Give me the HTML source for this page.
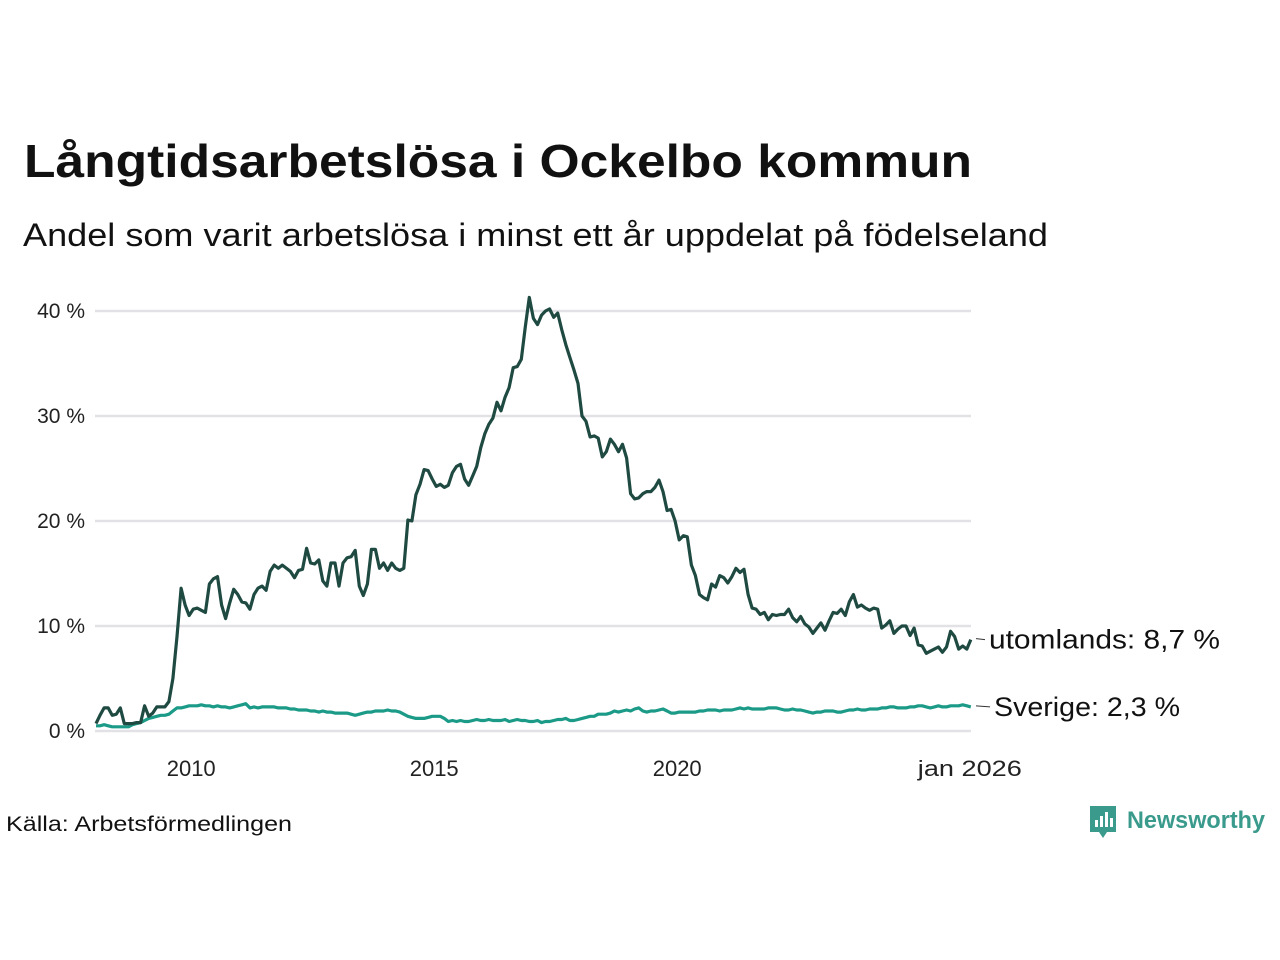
<!DOCTYPE html>
<html><head><meta charset="utf-8"><style>
body{margin:0;background:#fff;}
svg{display:block;font-family:"Liberation Sans","DejaVu Sans",sans-serif;}
</style></head><body>
<svg id="chart" width="1280" height="960" viewBox="0 0 1280 960">
<text x="24" y="177" font-size="46" font-weight="bold" fill="#111" textLength="948" lengthAdjust="spacingAndGlyphs">Långtidsarbetslösa i Ockelbo kommun</text>
<text x="23" y="246" font-size="32" fill="#111" textLength="1025" lengthAdjust="spacingAndGlyphs">Andel som varit arbetslösa i minst ett år uppdelat på födelseland</text>
<g id="grid"></g>
<g id="series"></g>
<text x="6" y="831" font-size="21" fill="#111" textLength="286" lengthAdjust="spacingAndGlyphs">Källa: Arbetsförmedlingen</text>
<g>
<path d="M1090 806 h26 v26 h-9 l-4 6 l-4 -6 h-9 z" fill="#3a9a8c"/>
<rect x="1095" y="820" width="3" height="7" fill="#fff"/><rect x="1100" y="816" width="3" height="11" fill="#fff"/><rect x="1105" y="812" width="3" height="15" fill="#fff"/><rect x="1110" y="818" width="3" height="9" fill="#fff"/>
<text x="1127" y="828" font-size="24" font-weight="bold" fill="#3a9a8c" textLength="138" lengthAdjust="spacingAndGlyphs">Newsworthy</text>
</g>
</svg>
<script>
const startYear = 2008;
const yTicks = [0, 10, 20, 30, 40];
const yTickLabels = ["0 %", "10 %", "20 %", "30 %", "40 %"];
const xTickYears = [2010, 2015, 2020];
const xTickLabels = ["2010", "2015", "2020"];
const lastLabel = "jan 2026";
const utomlands = [
0.7,1.5,2.2,2.2,1.5,1.6,2.2,0.7,0.7,0.7,0.8,0.8,
2.4,1.4,1.7,2.3,2.3,2.3,2.8,5.0,9.0,13.6,12.0,11.0,
11.6,11.7,11.5,11.3,14.0,14.5,14.7,12.0,10.7,12.2,13.5,13.0,
12.3,12.2,11.6,13.0,13.6,13.8,13.4,15.2,15.8,15.5,15.8,15.5,
15.2,14.6,15.3,15.4,17.4,16.0,15.9,16.3,14.3,13.8,16.0,16.0,
13.8,16.0,16.5,16.6,17.2,13.8,12.9,14.0,17.3,17.3,15.5,16.0,
15.3,16.0,15.5,15.3,15.5,20.1,20.0,22.5,23.5,24.9,24.8,24.0,
23.3,23.5,23.2,23.4,24.6,25.2,25.4,24.0,23.4,24.3,25.2,27.0,
28.3,29.2,29.8,31.3,30.5,31.8,32.7,34.6,34.7,35.4,38.5,41.3,
39.3,38.7,39.6,40.0,40.2,39.4,39.8,38.2,36.8,35.6,34.4,33.1,
30.0,29.5,28.0,28.1,27.9,26.1,26.6,27.8,27.3,26.6,27.3,26.0,
22.6,22.1,22.2,22.6,22.8,22.8,23.2,23.9,22.8,21.0,21.1,20.0,
18.2,18.6,18.5,15.8,14.8,13.0,12.7,12.5,14.0,13.7,14.8,14.6,
14.1,14.7,15.5,15.1,15.4,13.0,11.7,11.6,11.1,11.3,10.6,11.1,
11.0,11.1,11.1,11.6,10.8,10.4,10.9,10.2,9.9,9.3,9.8,10.3,
9.6,10.5,11.3,11.2,11.6,11.0,12.3,13.0,11.8,12.0,11.7,11.5,
11.7,11.6,9.8,10.1,10.5,9.3,9.7,10.0,10.0,9.1,9.8,8.2,
8.1,7.4,7.6,7.8,8.0,7.5,8.0,9.5,9.0,7.8,8.1,7.8,
8.7];
const sverige = [
0.5,0.5,0.6,0.5,0.4,0.4,0.4,0.4,0.4,0.6,0.7,0.8,
1.0,1.2,1.3,1.4,1.5,1.5,1.6,1.9,2.2,2.2,2.3,2.4,
2.4,2.4,2.5,2.4,2.4,2.3,2.4,2.3,2.3,2.2,2.3,2.4,
2.5,2.6,2.2,2.3,2.2,2.3,2.3,2.3,2.3,2.2,2.2,2.2,
2.1,2.1,2.0,2.0,2.0,1.9,1.9,1.8,1.9,1.8,1.8,1.7,
1.7,1.7,1.7,1.6,1.5,1.6,1.7,1.8,1.8,1.9,1.9,1.9,
2.0,1.9,1.9,1.8,1.6,1.4,1.3,1.2,1.2,1.2,1.3,1.4,
1.4,1.4,1.2,0.9,1.0,0.9,1.0,0.9,0.9,1.0,1.1,1.0,
1.0,1.1,1.0,1.0,1.0,1.1,0.9,1.0,1.1,1.0,1.0,0.9,
0.9,1.0,0.8,0.9,0.9,1.0,1.1,1.1,1.2,1.0,1.0,1.1,
1.2,1.3,1.4,1.4,1.6,1.6,1.6,1.7,1.9,1.8,1.9,2.0,
1.9,2.1,2.2,1.9,1.8,1.9,1.9,2.0,2.1,1.9,1.7,1.7,
1.8,1.8,1.8,1.8,1.8,1.9,1.9,2.0,2.0,2.0,1.9,2.0,
2.0,2.0,2.1,2.2,2.1,2.2,2.1,2.1,2.1,2.1,2.2,2.2,
2.2,2.1,2.0,2.0,2.1,2.0,2.0,1.9,1.8,1.7,1.8,1.8,
1.9,1.9,1.9,1.8,1.8,1.9,2.0,2.0,2.1,2.0,2.0,2.1,
2.1,2.1,2.2,2.2,2.3,2.3,2.2,2.2,2.2,2.3,2.3,2.4,
2.4,2.3,2.2,2.3,2.4,2.3,2.3,2.4,2.4,2.4,2.5,2.4,
2.3];
const seriesNames = ["utomlands", "Sverige"];

const NS = "http://www.w3.org/2000/svg";
const x0 = 96, pxPerYear = 48.6, y0 = 731, pxPerPct = 10.5;
function xScale(i){ return x0 + i * pxPerYear / 12; }
function xYear(yr){ return x0 + (yr - startYear) * pxPerYear; }
function yScale(v){ return y0 - v * pxPerPct; }
function mk(tag, attrs){ const e = document.createElementNS(NS, tag); for (const k in attrs) e.setAttribute(k, attrs[k]); return e; }

const grid = document.getElementById('grid');
yTicks.forEach((t, i) => {
  const l = mk('line', {x1: 95, x2: 971, y1: yScale(t), y2: yScale(t), stroke: '#e1e1e6', 'stroke-width': 2.5});
  
  
  grid.appendChild(l);
  const tx = mk('text', {x: 85, y: yScale(t) + 7, 'text-anchor': 'end', 'font-size': 21, fill: '#222'});
  
  
  tx.textContent = yTickLabels[i];
  grid.appendChild(tx);
});
xTickYears.forEach((yr, i) => {
  const tx = mk('text', {x: xYear(yr) - 2, y: 776, 'text-anchor': 'middle', 'font-size': 22, fill: '#222'});
  
  
  tx.textContent = xTickLabels[i];
  grid.appendChild(tx);
});
const lt = mk('text', {x: xScale(utomlands.length - 1) - 1, y: 776, 'text-anchor': 'middle', 'font-size': 22, fill: '#222', textLength: 104, lengthAdjust: 'spacingAndGlyphs'});


lt.textContent = lastLabel;
grid.appendChild(lt);

const g = document.getElementById('series');
function drawLine(data, color, name){
  const d = data.map((v, i) => (i ? 'L' : 'M') + xScale(i).toFixed(1) + ' ' + yScale(v).toFixed(1)).join(' ');
  const p = mk('path', {d: d, fill: 'none', stroke: color, 'stroke-width': 3.2, 'stroke-linejoin': 'round'});
  
  
  g.appendChild(p);
}
drawLine(sverige, '#1a9a87', seriesNames[1]);
drawLine(utomlands, '#1f4a42', seriesNames[0]);

function endLabel(data, name, lx, dy, w){
  const v = data[data.length - 1];
  const y = yScale(v) + dy;
  const ln = mk('line', {x1: 976, x2: lx - 4, y1: y - 1, y2: y, stroke: '#333', 'stroke-width': 1});
  
  
  g.appendChild(ln);
  const t = mk('text', {x: lx, y: y + 9, 'font-size': 27, fill: '#111', textLength: w, lengthAdjust: 'spacingAndGlyphs'});
  
  
  t.textContent = name + ': ' + v.toFixed(1).replace('.', ',') + ' %';
  g.appendChild(t);
}
endLabel(utomlands, seriesNames[0], 989, 0, 231);
endLabel(sverige, seriesNames[1], 994, 0, 186);
</script>
</body></html>
